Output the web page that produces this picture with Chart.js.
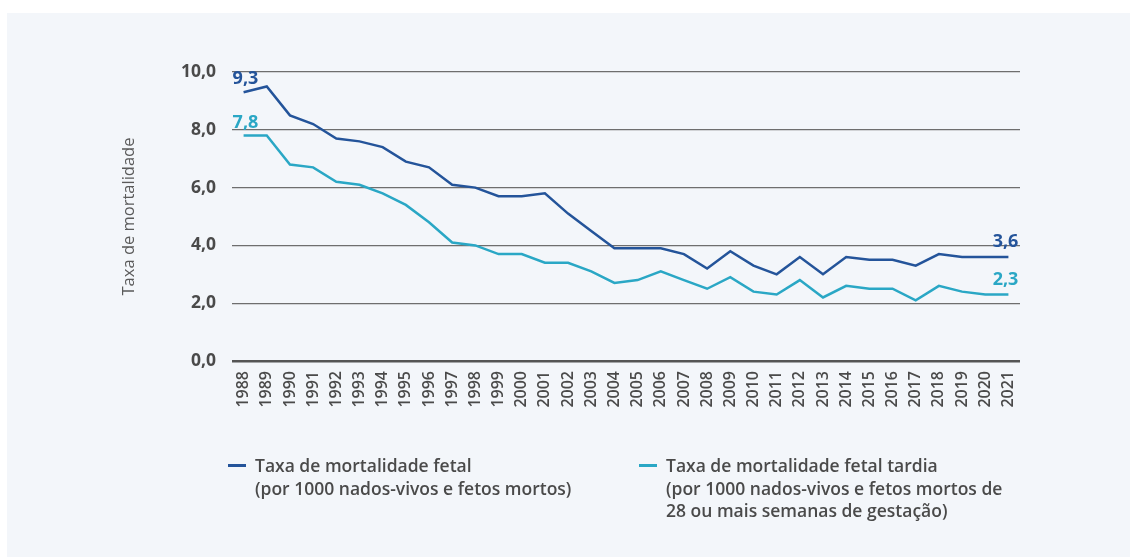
<!DOCTYPE html>
<html lang="pt">
<head>
<meta charset="utf-8">
<title>Taxa de mortalidade fetal</title>
<script src="https://cdn.jsdelivr.net/npm/chart.js@4.4.1/dist/chart.umd.min.js"></script>
<style>
    html, body { margin: 0; padding: 0; background: #ffffff; }
    body { width: 1130px; height: 557px; position: relative; overflow: hidden; font-family: 'Open Sans', sans-serif; }
    .panel { position: absolute; left: 7px; top: 13px; width: 1123px; height: 544px; background: #f3f6fa; }
    .panel canvas { position: absolute; left: 0; top: 0; }
    .legend-item { position: absolute; font-size: 17.5px; font-weight: 600; line-height: 22.5px; color: #4a4a4a; white-space: nowrap; }
    .legend-item .mark { position: absolute; left: -27px; top: 10px; width: 18px; height: 3px; }
</style>
</head>
<body>
<div class="panel">
    <canvas id="fetalChart" width="1123" height="544"></canvas>
    <div class="legend-item" style="left:248px; top:441px;">
        <span class="mark" style="background:#24549a;"></span>
        Taxa de mortalidade fetal<br>(por 1000 nados-vivos e fetos mortos)
    </div>
    <div class="legend-item" style="left:659px; top:441px;">
        <span class="mark" style="background:#2aa7c5;"></span>
        Taxa de mortalidade fetal tardia<br>(por 1000 nados-vivos e fetos mortos de<br>28 ou mais semanas de gestação)
    </div>
</div>
<script>
// Data
const years = ['1988', '1989', '1990', '1991', '1992', '1993', '1994', '1995', '1996', '1997',
    '1998', '1999', '2000', '2001', '2002', '2003', '2004', '2005', '2006', '2007',
    '2008', '2009', '2010', '2011', '2012', '2013', '2014', '2015', '2016', '2017',
    '2018', '2019', '2020', '2021'];

const fetalRate = [9.3, 9.5, 8.5, 8.2, 7.7, 7.6, 7.4, 6.9, 6.7, 6.1,
    6.0, 5.7, 5.7, 5.8, 5.1, 4.5, 3.9, 3.9, 3.9, 3.7,
    3.2, 3.8, 3.3, 3.0, 3.6, 3.0, 3.6, 3.5, 3.5, 3.3,
    3.7, 3.6, 3.6, 3.6];

const lateFetalRate = [7.8, 7.8, 6.8, 6.7, 6.2, 6.1, 5.8, 5.4, 4.8, 4.1,
    4.0, 3.7, 3.7, 3.4, 3.4, 3.1, 2.7, 2.8, 3.1, 2.8,
    2.5, 2.9, 2.4, 2.3, 2.8, 2.2, 2.6, 2.5, 2.5, 2.1,
    2.6, 2.4, 2.3, 2.3];

const yTicks = [0, 2, 4, 6, 8, 10];

const DARK_BLUE = '#24549a';
const TEAL = '#2aa7c5';

function fmt(v) {
    return v.toFixed(1).replace('.', ',');
}

// Draws the value of the first and last point of each line
const endLabels = {
    id: 'endLabels',
    afterDatasetsDraw(chart) {
        const ctx = chart.ctx;
        ctx.save();
        ctx.font = 'bold 18px "Open Sans", sans-serif';
        ctx.textBaseline = 'alphabetic';
        chart.data.datasets.forEach(function(ds, i) {
            const meta = chart.getDatasetMeta(i);
            const first = meta.data[0];
            const last = meta.data[meta.data.length - 1];
            ctx.fillStyle = ds.borderColor;
            ctx.textAlign = 'left';
            ctx.fillText(fmt(ds.data[0]), first.x - 11, first.y - 8);
            ctx.textAlign = 'right';
            ctx.fillText(fmt(ds.data[ds.data.length - 1]), last.x + 10, last.y - 10);
        });
        ctx.restore();
    }
};

document.addEventListener('DOMContentLoaded', function() {
    const ctx = document.getElementById('fetalChart').getContext('2d');

    new Chart(ctx, {
        type: 'line',
        data: {
            labels: years,
            datasets: [
                {
                    label: 'Taxa de mortalidade fetal',
                    data: fetalRate,
                    borderColor: DARK_BLUE,
                    backgroundColor: DARK_BLUE,
                    borderWidth: 2.5,
                    pointRadius: 0,
                    tension: 0
                },
                {
                    label: 'Taxa de mortalidade fetal tardia',
                    data: lateFetalRate,
                    borderColor: TEAL,
                    backgroundColor: TEAL,
                    borderWidth: 2.5,
                    pointRadius: 0,
                    tension: 0
                }
            ]
        },
        options: {
            responsive: false,
            animation: false,
            layout: {
                padding: { left: 108, right: 110, top: 59, bottom: 136 }
            },
            plugins: {
                legend: { display: false },
                tooltip: { enabled: false }
            },
            scales: {
                x: {
                    offset: true,
                    grid: { display: false },
                    border: { display: false },
                    ticks: {
                        autoSkip: false,
                        minRotation: 90,
                        maxRotation: 90,
                        padding: 2,
                        color: '#4a4a4a',
                        font: { family: 'Open Sans', size: 16, weight: '600' }
                    },
                    afterFit: function(scale) { scale.height = 60; }
                },
                y: {
                    min: 0,
                    max: 10,
                    afterBuildTicks: function(scale) {
                        scale.ticks = yTicks.map(function(v) { return { value: v }; });
                    },
                    border: { display: false },
                    grid: {
                        drawTicks: false,
                        color: function(c) { return c.tick && c.tick.value === 0 ? '#555555' : '#6e6e6e'; },
                        lineWidth: function(c) { return c.tick && c.tick.value === 0 ? 2.5 : 1.2; }
                    },
                    ticks: {
                        padding: 16,
                        color: '#4a4a4a',
                        font: { family: 'Open Sans', size: 17.5, weight: 'bold' },
                        callback: function(value) { return fmt(value); }
                    },
                    title: {
                        display: true,
                        text: 'Taxa de mortalidade',
                        color: '#5a5a5a',
                        font: { family: 'Open Sans', size: 16.5 }
                    },
                    afterFit: function(scale) { scale.width = 117; }
                }
            }
        },
        plugins: [endLabels]
    });
});
</script>
</body>
</html>
